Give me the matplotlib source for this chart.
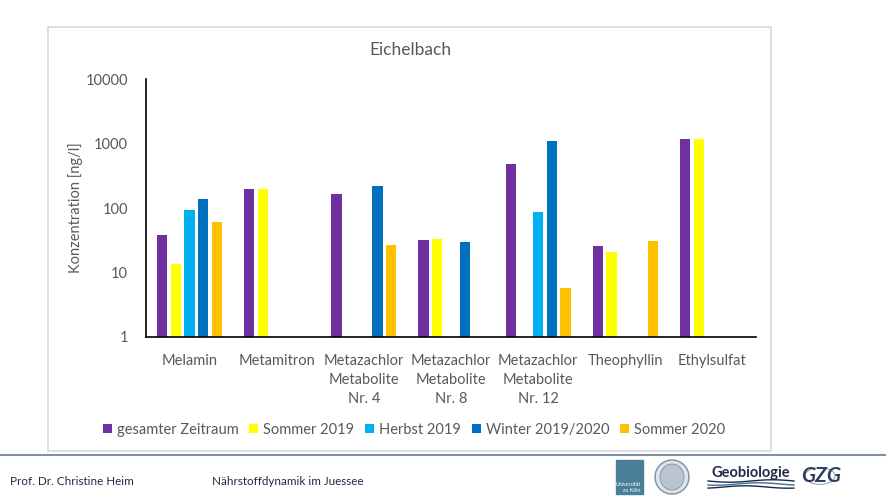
import matplotlib
matplotlib.use("Agg")
import matplotlib.pyplot as plt
import numpy as np
from matplotlib.patches import Rectangle, Ellipse, Circle

plt.rcParams['font.family'] = ['Lato', 'DejaVu Sans']

categories = ["Melamin", "Metamitron", "Metazachlor\nMetabolite\nNr. 4",
              "Metazachlor\nMetabolite\nNr. 8", "Metazachlor\nMetabolite\nNr. 12",
              "Theophyllin", "Ethylsulfat"]
series_names = ["gesamter Zeitraum", "Sommer 2019", "Herbst 2019",
                "Winter 2019/2020", "Sommer 2020"]
gesamter = [38, 196, 165, 32, 480, 26, 1180]
sommer2019 = [13.5, 197, None, 32.5, None, 21, 1190]
herbst2019 = [93, None, None, None, 87, None, None]
winter1920 = [138, None, 220, 30, 1100, None, None]
sommer2020 = [61, None, 27, None, 5.7, 31, None]
yticks = [1, 10, 100, 1000, 10000]
ytick_labels = ["1", "10", "100", "1000", "10000"]

colors = ["#7030A0", "#FFFF00", "#00B0F0", "#0070C0", "#FFC000"]
all_series = [gesamter, sommer2019, herbst2019, winter1920, sommer2020]

W, H = 887, 498
fig = plt.figure(figsize=(W / 100, H / 100), dpi=100)

def fx(px):
    return px / W

def fy(py):
    return 1 - py / H

# chart box
fig.patches.append(Rectangle((fx(48), fy(451)), fx(771) - fx(48), fy(27) - fy(451),
                             transform=fig.transFigure, fill=False,
                             edgecolor="#D9D9D9", linewidth=1.2))

ax = fig.add_axes([fx(146), fy(337), fx(756) - fx(146), fy(79) - fy(337)])
ax.set_yscale('log')
ax.set_ylim(1, 10000)
ax.set_xlim(-0.5, len(categories) - 0.5)

slot = 0.157
bw = 0.118
x = np.arange(len(categories))
for i, (vals, col, name) in enumerate(zip(all_series, colors, series_names)):
    xs = [xi + (i - 2) * slot for xi, v in zip(x, vals) if v is not None]
    vs = [v for v in vals if v is not None]
    ax.bar(xs, vs, width=bw, color=col, label=name, bottom=0, log=True, zorder=2)

ax.set_yticks(yticks)
ax.set_yticklabels(ytick_labels)
ax.yaxis.set_minor_locator(matplotlib.ticker.NullLocator())
ax.set_xticks(x)
ax.set_xticklabels(categories, linespacing=1.45, va='top')
ax.tick_params(axis='both', length=0, labelsize=10.5, colors="#595959")
ax.tick_params(axis='y', pad=13)
ax.tick_params(axis='x', pad=12)
for s in ['top', 'right']:
    ax.spines[s].set_visible(False)
for s in ['left', 'bottom']:
    ax.spines[s].set_color('black')
    ax.spines[s].set_linewidth(1.2)

fig.text(fx(410), fy(50), "Eichelbach", ha='center', va='center',
         fontsize=12.5, color="#595959")
fig.text(fx(76), fy(208), "Konzentration [ng/l]", rotation=90, ha='center',
         va='center', fontsize=10.5, color="#595959")

leg = fig.legend(loc='center', bbox_to_anchor=(fx(414), fy(430)), ncol=5,
                 frameon=False, fontsize=10.5, handlelength=0.6, handleheight=0.6,
                 handletextpad=0.35, columnspacing=0.75, labelcolor="#595959")

# footer
fig.add_artist(plt.Line2D([0, 1], [fy(455), fy(455)], transform=fig.transFigure,
                          color="#8090A8", linewidth=1.5))
fig.text(fx(10), fy(481), "Prof. Dr. Christine Heim", ha='left', va='center',
         fontsize=8.4, color="#1F2A44")
fig.text(fx(212), fy(481), "Nährstoffdynamik im Juessee", ha='left', va='center',
         fontsize=8.4, color="#1F2A44")

# logos (approximate)
fig.patches.append(Rectangle((fx(616), fy(494)), fx(643) - fx(616), fy(460) - fy(494),
                             transform=fig.transFigure, color="#4A7D98"))
fig.text(fx(641), fy(484), "Universität", ha='right', va='center', fontsize=3.8, color="white")
fig.text(fx(641), fy(490), "zu Köln", ha='right', va='center', fontsize=3.8, color="white")
fig.patches.append(Ellipse((fx(672), fy(477)), fx(34), fy(0) - fy(34),
                           transform=fig.transFigure, facecolor="#DDE3EA",
                           edgecolor="#7D8FA3", linewidth=1))
fig.patches.append(Ellipse((fx(672), fy(477)), fx(24), fy(0) - fy(26),
                           transform=fig.transFigure, facecolor="#B8C4D0",
                           edgecolor="#7D8FA3", linewidth=0.6))
fig.text(fx(751), fy(473), "Geobiologie", ha='center', va='center', fontsize=10.5,
         fontweight='bold', color="#1F2A44")
wx = np.linspace(708, 794, 60)
for k, (off, c) in enumerate([(481, "#1F2A44"), (484, "#3A6FA0"), (487, "#1F2A44")]):
    wy = off + 1.2 * np.sin((wx - 708) / 86 * 2 * np.pi + k)
    fig.add_artist(plt.Line2D(fx(wx), fy(wy), transform=fig.transFigure, color=c, linewidth=1))
fig.patches.append(Circle((fx(820), fy(476)), fx(15), transform=fig.transFigure,
                          fill=False, edgecolor="#9AA5B5", linewidth=0.8))
fig.text(fx(821), fy(476), "GZG", ha='center', va='center', fontsize=15,
         fontweight='bold', fontstyle='italic', color="#2E3F66")

fig.savefig("out.png", dpi=100)
